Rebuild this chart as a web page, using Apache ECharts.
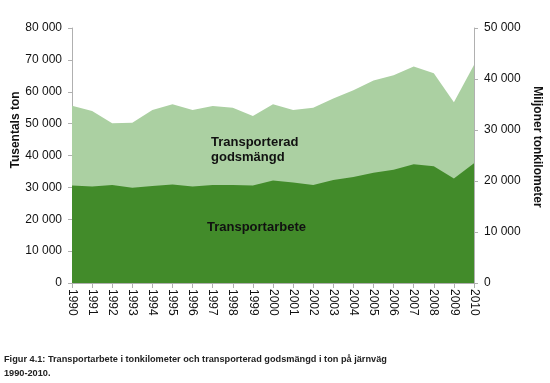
<!DOCTYPE html>
<html>
<head>
<meta charset="utf-8">
<script src="https://cdn.jsdelivr.net/npm/echarts@6/dist/echarts.min.js"></script>
<style>
html,body{margin:0;padding:0;background:#fff;}
#c{width:550px;height:383px;}
</style>
</head>
<body>
<div id="c"></div>
<script>
const years = ['1990','1991','1992','1993','1994','1995','1996','1997','1998','1999','2000','2001','2002','2003','2004','2005','2006','2007','2008','2009','2010'];
// Transporterad godsmängd, tusentals ton (left axis)
const godsmangd = [55600,54000,50100,50300,54300,56100,54300,55500,55000,52400,56100,54300,55000,57900,60500,63500,65200,67900,65800,56700,68400];
// Transportarbete, miljoner tonkilometer (right axis)
const transportarbete = [19100,18900,19200,18700,19000,19300,18900,19200,19200,19100,20100,19700,19200,20200,20800,21600,22200,23300,22900,20500,23500];
const leftTicks = {min:0, max:80000, interval:10000};
const rightTicks = {min:0, max:50000, interval:10000};

const fmt = v => v === 0 ? '0' : String(v).replace(/\B(?=(\d{3})+(?!\d))/g, ' ');
const font = 'Liberation Sans, Arial, sans-serif';
const axisLineStyle = {lineStyle:{color:'#b0b0b0', width:1}};
const chart = echarts.init(document.getElementById('c'), null, {renderer:'canvas'});
chart.setOption({
  animation:false,
  backgroundColor:'#ffffff',
  grid:{left:72, right:76, top:28, bottom:100},
  xAxis:{
    type:'category', data:years, boundaryGap:false,
    axisLine:axisLineStyle,
    axisTick:{show:true, alignWithLabel:true, length:5, lineStyle:{color:'#b0b0b0'}},
    axisLabel:{rotate:-90, interval:0, color:'#111', fontSize:12, fontFamily:font, margin:6}
  },
  yAxis:[
    {type:'value', min:leftTicks.min, max:leftTicks.max, interval:leftTicks.interval, position:'left',
     splitLine:{show:false}, axisLine:{show:true, lineStyle:{color:'#b0b0b0'}},
     axisTick:{show:true, length:4, lineStyle:{color:'#b0b0b0'}},
     axisLabel:{formatter:fmt, color:'#111', fontSize:12, fontFamily:font, margin:10}},
    {type:'value', min:rightTicks.min, max:rightTicks.max, interval:rightTicks.interval, position:'right',
     splitLine:{show:false}, axisLine:{show:true, lineStyle:{color:'#b0b0b0'}},
     axisTick:{show:true, length:4, lineStyle:{color:'#b0b0b0'}},
     axisLabel:{formatter:fmt, color:'#111', fontSize:12, fontFamily:font, margin:10}}
  ],
  series:[
    {name:'Transporterad godsmängd', type:'line', yAxisIndex:0, data:godsmangd,
     symbol:'none', lineStyle:{width:0}, areaStyle:{color:'#abd0a2', opacity:1}, z:1},
    {name:'Transportarbete', type:'line', yAxisIndex:1, data:transportarbete,
     symbol:'none', lineStyle:{width:0}, areaStyle:{color:'#428b2a', opacity:1}, z:2}
  ],
  graphic:[
    {type:'text', left:211, top:135, z:10, style:{text:'Transporterad\ngodsmängd', font:'bold 13px '+font, fill:'#111', lineHeight:15}},
    {type:'text', left:207, top:221, z:10, style:{text:'Transportarbete', font:'bold 13px '+font, fill:'#111'}},
    {type:'text', x:16, y:130, rotation:Math.PI/2, z:10, style:{text:'Tusentals ton', font:'bold 12px '+font, fill:'#111', align:'center', verticalAlign:'middle'}},
    {type:'text', x:537, y:147, rotation:-Math.PI/2, z:10, style:{text:'Miljoner tonkilometer', font:'bold 12px '+font, fill:'#111', align:'center', verticalAlign:'middle'}},
    {type:'text', left:4, top:352, z:10, style:{text:'Figur 4.1: Transportarbete i tonkilometer och transporterad godsmängd i ton på järnväg\n1990-2010.', font:'bold 9.2px '+font, fill:'#222', lineHeight:14}}
  ]
});
</script>
</body>
</html>
